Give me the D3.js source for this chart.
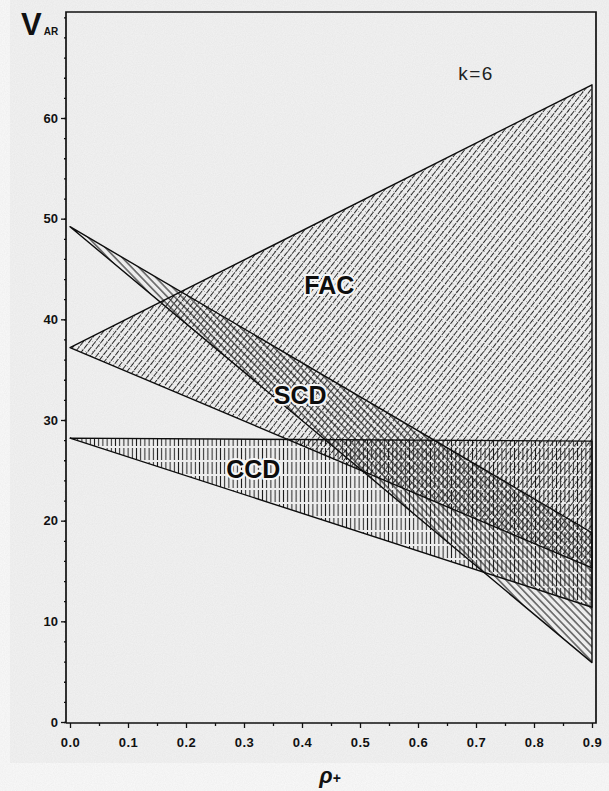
<!DOCTYPE html>
<html>
<head>
<meta charset="utf-8">
<script src="https://cdn.jsdelivr.net/npm/d3@7"></script>
<style>
  body { margin: 0; background: #fafafa; }
  svg { display: block; }
  .tick text { font-family: "Liberation Sans", Arial, sans-serif; font-weight: bold; font-size: 13px; fill: #111; }
  .region-label { font-family: "Liberation Sans", Arial, sans-serif; font-weight: bold; font-size: 25px;
                  fill: #0d0d0d; stroke: #f6f6f6; stroke-width: 4px; paint-order: stroke; stroke-linejoin: round; }
</style>
</head>
<body>
<svg id="chart" width="609" height="791"></svg>
<script>
// region names, the value at rho = 0 and the two values at rho = 0.9
var regions = ['FAC', 'SCD', 'CCD'];
var vAtZero = [37.2, 49.2, 28.2];
var vUpperAtMax = [63.3, 18.8, 27.9];
var vLowerAtMax = [15.3, 5.9, 11.4];
var rhoMax = 0.9;

var xTicks = [0, 0.1, 0.2, 0.3, 0.4, 0.5, 0.6, 0.7, 0.8, 0.9];
var yTicks = [0, 10, 20, 30, 40, 50, 60];

// where the names are written, in data units
var labelRho = [0.447, 0.397, 0.316];
var labelV = [43.4, 32.5, 25.1];

var config = {
    axisX: 66,
    axisY: 723,
    frameTop: 12,
    frameRight: 596
};

var svg = d3.select('#chart');
var x = d3.scaleLinear().domain([0, 0.9]).range([70, 592]);
var y = d3.scaleLinear().domain([0, 60]).range([722, 118]);

var defs = svg.append('defs');

defs.append('filter')
    .attr('id', 'grain')
    .call(function(f) {
        f.append('feTurbulence').attr('type', 'fractalNoise').attr('baseFrequency', 0.9).attr('numOctaves', 2).attr('result', 'n');
        f.append('feColorMatrix').attr('type', 'matrix')
            .attr('values', '0 0 0 0 0  0 0 0 0 0  0 0 0 0 0  0 0 0 0.05 0');
    });

function hatch(id, spacing, angle, width, color, dash) {
    var p = defs.append('pattern')
        .attr('id', id)
        .attr('patternUnits', 'userSpaceOnUse')
        .attr('width', spacing)
        .attr('height', 14)
        .attr('patternTransform', 'rotate(' + angle + ')');
    p.append('line')
        .attr('x1', spacing / 2).attr('x2', spacing / 2)
        .attr('y1', 0).attr('y2', 14)
        .attr('stroke', color)
        .attr('stroke-width', width)
        .attr('stroke-dasharray', dash || null);
}

hatch('pat-FAC', 4.8, 38, 1.0, '#2a2a2a', '6 1');
hatch('pat-SCD', 5.2, -44, 1.0, '#111');
hatch('pat-CCD', 4.2, 0, 1.0, '#1c1c1c', '12 2');

var dots = defs.append('pattern')
    .attr('id', 'pat-dots')
    .attr('patternUnits', 'userSpaceOnUse')
    .attr('width', 7).attr('height', 5);
dots.append('circle').attr('cx', 1.5).attr('cy', 1.5).attr('r', 0.45).attr('fill', '#666');
dots.append('circle').attr('cx', 5).attr('cy', 4).attr('r', 0.4).attr('fill', '#777');

// background of the scanned page
svg.append('rect').attr('width', 609).attr('height', 791).attr('fill', '#fafafa');
svg.append('rect').attr('x', 10).attr('y', 0).attr('width', 599).attr('height', 763).attr('fill', '#f3f3f3');
svg.append('rect').attr('x', 10).attr('y', 0).attr('width', 599).attr('height', 763).attr('filter', 'url(#grain)');

var triangles = regions.map(function(name, i) {
    return {
        name: name,
        points: [[0, vAtZero[i]], [rhoMax, vUpperAtMax[i]], [rhoMax, vLowerAtMax[i]]],
        labelRho: labelRho[i],
        labelV: labelV[i]
    };
});

var line = d3.line()
    .x(function(d) { return x(d[0]); })
    .y(function(d) { return y(d[1]); });

var fills = svg.append('g').classed('fills', true);

fills.selectAll('path.dots')
    .data(triangles.filter(function(d) { return d.name === 'FAC'; }))
    .join('path')
    .classed('dots', true)
    .attr('d', function(d) { return line(d.points) + 'Z'; })
    .attr('fill', 'url(#pat-dots)');

fills.selectAll('path.hatch')
    .data(triangles)
    .join('path')
    .classed('hatch', true)
    .attr('d', function(d) { return line(d.points) + 'Z'; })
    .attr('fill', function(d) { return 'url(#pat-' + d.name + ')'; });

svg.append('g')
    .selectAll('path')
    .data(triangles)
    .join('path')
    .attr('d', function(d) { return line(d.points) + 'Z'; })
    .attr('fill', 'none')
    .attr('stroke', '#0d0d0d')
    .attr('stroke-width', 1.4)
    .attr('stroke-linejoin', 'round');

svg.append('g')
    .selectAll('text')
    .data(triangles)
    .join('text')
    .classed('region-label', true)
    .attr('x', function(d) { return x(d.labelRho); })
    .attr('y', function(d) { return y(d.labelV); })
    .attr('text-anchor', 'middle')
    .attr('dominant-baseline', 'central')
    .text(function(d) { return d.name; });

// frame
var frame = svg.append('g').attr('stroke', '#111').attr('fill', 'none');
frame.append('path')
    .attr('d', 'M' + config.axisX + ',' + config.axisY + 'V' + config.frameTop + 'H' + config.frameRight + 'V' + config.axisY + 'H' + config.axisX)
    .attr('stroke-width', 1.7);

// axes
var yAxis = svg.append('g')
    .attr('transform', 'translate(' + config.axisX + ',0)')
    .call(d3.axisLeft(y).tickValues(yTicks).tickSize(5).tickPadding(3).tickFormat(d3.format('d')));
svg.append('g')
    .attr('transform', 'translate(' + config.axisX + ',0)')
    .call(d3.axisLeft(y).tickValues(d3.range(0, 71, 2)).tickSize(2).tickFormat(''));

var xAxis = svg.append('g')
    .attr('transform', 'translate(0,' + config.axisY + ')')
    .call(d3.axisBottom(x).tickValues(xTicks).tickSize(5).tickPadding(10).tickFormat(d3.format('.1f')));
svg.append('g')
    .attr('transform', 'translate(0,' + config.axisY + ')')
    .call(d3.axisBottom(x).tickValues(d3.range(0.05, 0.9, 0.1)).tickSize(3).tickFormat(''));

svg.selectAll('.domain').remove();
svg.selectAll('.tick line').attr('stroke', '#111').attr('stroke-width', 1.3);
xAxis.selectAll('.tick text').attr('letter-spacing', '0.5px');

// titles
var yTitle = svg.append('text')
    .attr('x', 21)
    .attr('y', 35)
    .attr('font-family', 'Liberation Sans, Arial, sans-serif')
    .attr('font-weight', 'bold')
    .attr('fill', '#111');
yTitle.append('tspan').attr('font-size', 31).text('V');
yTitle.append('tspan').attr('font-size', 10).attr('dx', 2).text('AR');

svg.append('text')
    .attr('x', 476)
    .attr('y', 80)
    .attr('text-anchor', 'middle')
    .attr('font-family', 'Liberation Sans, Arial, sans-serif')
    .attr('font-size', 19)
    .attr('letter-spacing', '1.5px')
    .attr('fill', '#222')
    .text('k=6');

var xTitle = svg.append('text')
    .attr('x', 330)
    .attr('y', 783)
    .attr('text-anchor', 'middle')
    .attr('font-family', 'Liberation Sans, Arial, sans-serif')
    .attr('font-weight', 'bold')
    .attr('font-style', 'italic')
    .attr('fill', '#111');
xTitle.append('tspan').attr('font-size', 22).text('ρ');
xTitle.append('tspan').attr('font-size', 14).text('+');
</script>
</body>
</html>
